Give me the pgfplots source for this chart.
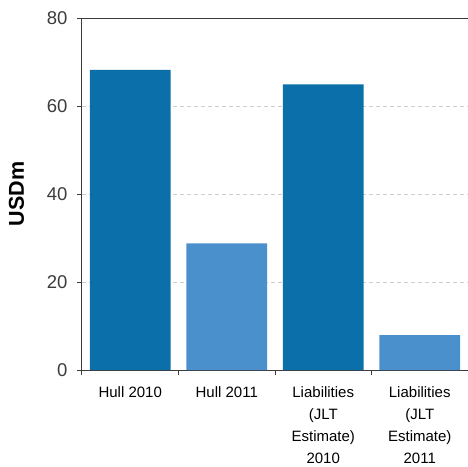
\documentclass[border=0pt]{standalone}
\usepackage{fontspec}
\setmainfont{Liberation Sans}
\usepackage{pgfplots}
\pgfplotsset{compat=1.18}
\definecolor{darkbar}{RGB}{11,112,170}
\definecolor{lightbar}{RGB}{74,144,204}
\definecolor{axisgray}{RGB}{60,60,60}
\definecolor{gridgray}{RGB}{205,205,205}
\begin{document}
\begin{tikzpicture}
\useasboundingbox (-82pt,-96pt) rectangle (386pt,370pt);
\begin{axis}[
    scale only axis,
    width=386pt, height=352pt,
    xmin=-0.5, xmax=3.5,
    ymin=0, ymax=80,
    axis lines*=left,
    axis line style={-, axisgray, line width=1pt},
    tick align=outside,
    major tick length=5pt,
    tick style={axisgray, line width=1pt},
    xtick={-0.5,0.5,1.5,2.5,3.5},
    xticklabels={Hull 2010, Hull 2011, {Liabilities\\(JLT\\Estimate)\\2010}, {Liabilities\\(JLT\\Estimate)\\2011}, {}},
    xticklabel style={align=center, font=\fontsize{15}{22}\selectfont, text=black,
        xshift=48.25pt, anchor=north, yshift=-8pt},
    ytick={0,20,40,60,80},
    yticklabel style={font=\fontsize{18.5}{20}\selectfont, text=axisgray, xshift=-6pt},
    /pgf/number format/assume math mode=true,
    ymajorgrids,
    grid style={gridgray, dash pattern=on 4pt off 3pt, line width=0.8pt},
    ylabel={\textbf{USDm}},
    ylabel style={font=\fontsize{21.5}{22}\selectfont, at={(rel axis cs:0,0.5)}, anchor=center, yshift=65.5pt},
    bar width=0.835,
]
\addplot[ybar, bar shift=0pt, fill=darkbar, draw=none] coordinates {(0,68.2) (2,64.9)};
\addplot[ybar, bar shift=0pt, fill=lightbar, draw=none] coordinates {(1,28.8) (3,7.95)};
\draw[axisgray, line width=1pt] (rel axis cs:0,1) -- (rel axis cs:1,1);
\end{axis}
\end{tikzpicture}
\end{document}
